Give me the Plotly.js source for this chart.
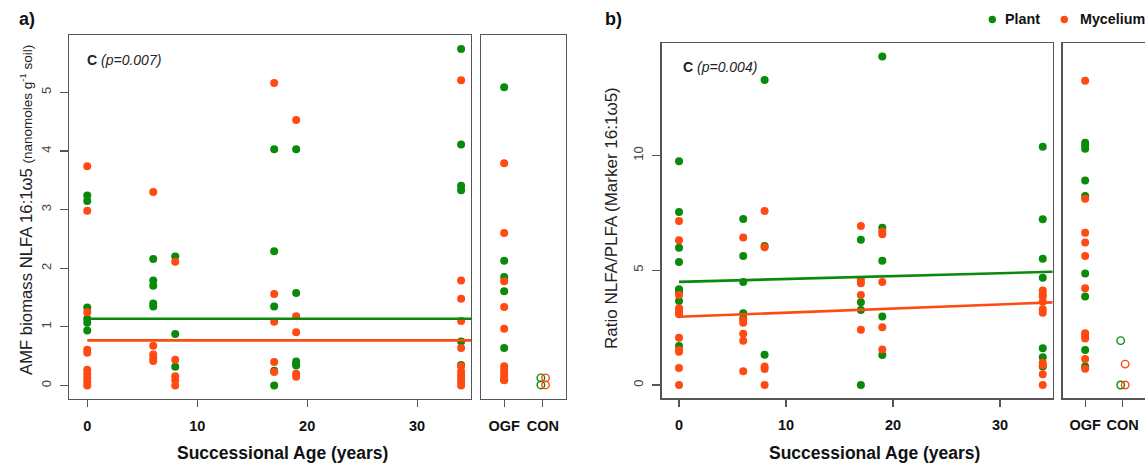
<!DOCTYPE html>
<html>
<head>
<meta charset="utf-8">
<script src="https://cdn.plot.ly/plotly-3.0.1.min.js"></script>
<style>html,body{margin:0;padding:0;background:#fff;}#chart{width:1145px;height:467px;}</style>
</head>
<body>
<div id="chart"></div>
<script>
// ---------------- DATA ----------------
const siteAges = [0, 6, 8, 17, 19, 34];
const refSites = ['OGF', 'CON'];
const ageTicks = [0, 10, 20, 30];
const amfTicks = [0, 1, 2, 3, 4, 5];
const ratioTicks = [0, 5, 10];
const seriesNames = ['Plant', 'Mycelium'];

// a) AMF biomass NLFA 16:1w5 per site (aligned with siteAges)
const amfPlant = [
  [3.24, 3.15, 1.33, 1.14, 1.07, 0.94],
  [2.16, 1.79, 1.70, 1.40, 1.35],
  [2.20, 0.88, 0.32],
  [4.03, 2.29, 1.35, 0.25, 0.00],
  [4.03, 1.58, 0.41, 0.37, 0.34],
  [5.74, 4.11, 3.41, 3.33, 0.75, 0.35]
];
const amfMycelium = [
  [3.74, 2.98, 1.25, 0.61, 0.56, 0.27, 0.20, 0.13, 0.06, 0.00],
  [3.30, 0.68, 0.53, 0.47, 0.42],
  [2.11, 0.44, 0.16, 0.09, 0.00],
  [5.16, 1.56, 1.09, 0.40, 0.23],
  [4.53, 1.18, 0.91, 0.20, 0.15],
  [5.21, 1.79, 1.48, 1.10, 0.64, 0.33, 0.24, 0.18, 0.12, 0.06, 0.00]
];
const amfPlantRef = [
  [5.09, 2.13, 1.85, 1.61, 0.64, 0.10],
  [0.13, 0.01]
];
const amfMyceliumRef = [
  [3.79, 2.60, 1.78, 1.34, 0.97, 0.33, 0.27, 0.21, 0.15, 0.09],
  [0.13, 0.01]
];
// fitted lines [intercept, slope]
const amfFitPlant = [1.14, 0];
const amfFitMycelium = [0.77, 0];

// b) Ratio NLFA/PLFA per site
const ratioPlant = [
  [9.74, 7.53, 5.98, 5.36, 4.17, 4.06, 3.66, 1.70],
  [7.23, 5.62, 4.49, 3.12, 2.90],
  [13.28, 6.05, 1.32],
  [6.32, 3.60, 3.27, 0.00],
  [14.30, 6.85, 5.41, 2.98, 1.31],
  [10.37, 7.22, 5.50, 4.67, 1.60, 1.21, 0.80]
];
const ratioMycelium = [
  [7.14, 6.30, 3.92, 3.34, 3.19, 3.08, 2.06, 1.52, 1.45, 0.74, 0.00],
  [6.42, 2.83, 2.71, 2.23, 1.93, 0.60],
  [7.58, 6.00, 0.80, 0.70, 0.00],
  [6.92, 4.57, 4.43, 3.92, 2.40],
  [6.68, 6.56, 4.49, 2.51, 1.55],
  [4.11, 3.96, 3.85, 3.63, 3.30, 3.15, 0.97, 0.87, 0.47, 0.00]
];
const ratioPlantRef = [
  [10.55, 10.44, 10.29, 8.90, 8.23, 4.86, 3.85, 1.52, 0.80],
  [1.93, 0.00]
];
const ratioMyceliumRef = [
  [13.25, 8.11, 6.63, 6.20, 5.62, 4.21, 2.25, 2.13, 2.02, 1.13, 0.71],
  [0.91, 0.00]
];
const ratioFitPlant = [4.49, 0.0126];
const ratioFitMycelium = [2.97, 0.018];

// ---------------- STYLE ----------------
const W = 1145, H = 467;
const GREEN = '#0a8a0a', ORANGE = '#ff4a12';
const FONT = 'Liberation Sans, Arial, Helvetica, sans-serif';
const AX = '#555';
const px = v => v / W;
const py = v => 1 - v / H;
const conDodge = {Plant: -0.05, Mycelium: 0.07};

function expand(groups, xs) {
  const x = [], y = [];
  groups.forEach((g, i) => g.forEach(v => { x.push(xs[i]); y.push(v); }));
  return {x, y};
}
function expandRef(groups, name) {
  const x = [], y = [], sym = [], lw = [], sz = [];
  groups.forEach((g, i) => g.forEach(v => {
    const open = refSites[i] === 'CON';
    x.push(i + 1 + (open ? conDodge[name] : 0));
    y.push(v);
    sym.push(open ? 'circle-open' : 'circle');
    lw.push(open ? 1.4 : 0);
    sz.push(open ? 7.5 : 8);
  }));
  return {x, y, sym, lw, sz};
}

const traces = [];
function panel(plantG, mycG, plantRef, mycRef, fitP, fitM, xa, ya, xa2, ya2, xmax) {
  [[plantG, 'Plant', GREEN], [mycG, 'Mycelium', ORANGE]].forEach(([g, n, c]) => {
    const d = expand(g, siteAges);
    traces.push({type: 'scatter', mode: 'markers', x: d.x, y: d.y, name: n, xaxis: xa, yaxis: ya,
      marker: {color: c, size: 8, opacity: 1, line: {width: 0}}, cliponaxis: false});
  });
  [[fitP, GREEN, 'Plant'], [fitM, ORANGE, 'Mycelium']].forEach(([f, c, n]) => {
    traces.push({type: 'scatter', mode: 'lines', x: [0, xmax], y: [f[0], f[0] + f[1] * xmax], name: n + ' fit',
      xaxis: xa, yaxis: ya, line: {color: c, width: 2.6}});
  });
  [[plantRef, 'Plant', GREEN], [mycRef, 'Mycelium', ORANGE]].forEach(([g, n, c]) => {
    const d = expandRef(g, n);
    traces.push({type: 'scatter', mode: 'markers', x: d.x, y: d.y, name: n, xaxis: xa2, yaxis: ya2,
      marker: {color: c, size: d.sz, opacity: 1, symbol: d.sym, line: {width: d.lw, color: c}}, cliponaxis: false});
  });
}

const aX = [-1.66, 34.9], aY = [-0.23, 5.98];
const bX = [-1.62, 34.93], bY = [-0.58, 14.88];
panel(amfPlant, amfMycelium, amfPlantRef, amfMyceliumRef, amfFitPlant, amfFitMycelium, 'x', 'y', 'x2', 'y2', aX[1]);
panel(ratioPlant, ratioMycelium, ratioPlantRef, ratioMyceliumRef, ratioFitPlant, ratioFitMycelium, 'x3', 'y3', 'x4', 'y4', bX[1]);

const boxAxis = {showline: true, mirror: true, linecolor: AX, linewidth: 1.3, showgrid: false, zeroline: false, fixedrange: true};
const xTickFont = {family: FONT, size: 14.5, color: '#111', weight: 700};
const yTickFont = {family: FONT, size: 13, color: '#444'};

const aDom = [py(399), py(35)];
const bDom = [py(398.3), py(43.3)];

const layout = {
  width: W, height: H,
  margin: {l: 0, r: 0, t: 0, b: 0},
  paper_bgcolor: '#fff', plot_bgcolor: '#fff',
  showlegend: false,
  font: {family: FONT, color: '#111'},
  xaxis: Object.assign({}, boxAxis, {domain: [px(69), px(471)], range: aX, anchor: 'y', tickvals: ageTicks,
    ticks: 'outside', ticklen: 7, tickcolor: AX, tickwidth: 1.2, tickfont: xTickFont, ticklabelstandoff: 6}),
  yaxis: Object.assign({}, boxAxis, {domain: aDom, range: aY, anchor: 'x', tickvals: amfTicks, tickangle: -90,
    ticks: 'outside', ticklen: 8, tickcolor: AX, tickwidth: 1.2, tickfont: yTickFont, ticklabelstandoff: 4}),
  xaxis2: Object.assign({}, boxAxis, {domain: [px(481), px(566)], range: [0.4, 2.6], anchor: 'y2', tickvals: [1, 2],
    ticktext: refSites, ticks: 'outside', ticklen: 7, tickcolor: AX, tickwidth: 1.2, tickfont: xTickFont, ticklabelstandoff: 6}),
  yaxis2: Object.assign({}, boxAxis, {domain: aDom, range: aY, anchor: 'x2', showticklabels: false, ticks: ''}),
  xaxis3: Object.assign({}, boxAxis, {domain: [px(661.7), px(1052.7)], range: bX, anchor: 'y3', tickvals: ageTicks,
    ticks: 'outside', ticklen: 7, tickcolor: AX, tickwidth: 1.2, tickfont: xTickFont, ticklabelstandoff: 6}),
  yaxis3: Object.assign({}, boxAxis, {domain: bDom, range: bY, anchor: 'x3', tickvals: ratioTicks, tickangle: -90,
    ticks: 'outside', ticklen: 8, tickcolor: AX, tickwidth: 1.2, tickfont: yTickFont, ticklabelstandoff: 4}),
  xaxis4: Object.assign({}, boxAxis, {domain: [px(1062.7), 1], range: [0.4, 2.6], anchor: 'y4', tickvals: [1, 2],
    ticktext: refSites, ticks: 'outside', ticklen: 7, tickcolor: AX, tickwidth: 1.2, tickfont: xTickFont, ticklabelstandoff: 6}),
  yaxis4: Object.assign({}, boxAxis, {domain: bDom, range: bY, anchor: 'x4', showticklabels: false, ticks: ''}),
  annotations: [
    {text: '<b>a)</b>', x: px(27), y: py(19), xref: 'paper', yref: 'paper', showarrow: false, xanchor: 'center', yanchor: 'middle', font: {size: 18, color: '#111'}},
    {text: '<b>b)</b>', x: px(613), y: py(19), xref: 'paper', yref: 'paper', showarrow: false, xanchor: 'center', yanchor: 'middle', font: {size: 18, color: '#111'}},
    {text: '<b>C</b> <i>(p=0.007)</i>', x: px(85), y: py(60), xref: 'paper', yref: 'paper', showarrow: false, xanchor: 'left', yanchor: 'middle', font: {size: 14, color: '#222'}},
    {text: '<b>C</b> <i>(p=0.004)</i>', x: px(680.5), y: py(67.5), xref: 'paper', yref: 'paper', showarrow: false, xanchor: 'left', yanchor: 'middle', font: {size: 14, color: '#222'}},
    {text: '<b>Successional Age (years)</b>', x: px(282), y: py(453), xref: 'paper', yref: 'paper', showarrow: false, xanchor: 'center', yanchor: 'middle', font: {size: 17.5, color: '#111'}},
    {text: '<b>Successional Age (years)</b>', x: px(874), y: py(453), xref: 'paper', yref: 'paper', showarrow: false, xanchor: 'center', yanchor: 'middle', font: {size: 17.5, color: '#111'}},
    {text: 'AMF biomass NLFA 16:1ω5 <span style="font-size:13.5px">(nanomoles g<sup>-1</sup> soil)</span>', textangle: -90,
      x: px(26), y: py(210), xref: 'paper', yref: 'paper', showarrow: false, xanchor: 'center', yanchor: 'middle', font: {size: 16.7, color: '#222'}},
    {text: 'Ratio NLFA/PLFA (Marker 16:1ω5)', textangle: -90,
      x: px(611), y: py(218), xref: 'paper', yref: 'paper', showarrow: false, xanchor: 'center', yanchor: 'middle', font: {size: 17, color: '#222'}},
    {text: '<b>' + seriesNames[0] + '</b>', x: px(1003.5), y: py(19.5), xref: 'paper', yref: 'paper', showarrow: false, xanchor: 'left', yanchor: 'middle', font: {size: 14.3, color: '#111'}},
    {text: '<b>' + seriesNames[1] + '</b>', x: px(1077.5), y: py(19.5), xref: 'paper', yref: 'paper', showarrow: false, xanchor: 'left', yanchor: 'middle', font: {size: 14.3, color: '#111'}}
  ],
  shapes: [
    {type: 'circle', xref: 'paper', yref: 'paper', xsizemode: 'pixel', ysizemode: 'pixel', xanchor: px(992.3), yanchor: py(19.5),
      x0: -3.7, x1: 3.7, y0: -3.7, y1: 3.7, fillcolor: GREEN, line: {width: 0}},
    {type: 'circle', xref: 'paper', yref: 'paper', xsizemode: 'pixel', ysizemode: 'pixel', xanchor: px(1064.3), yanchor: py(19.5),
      x0: -3.7, x1: 3.7, y0: -3.7, y1: 3.7, fillcolor: ORANGE, line: {width: 0}}
  ]
};

Plotly.newPlot('chart', traces, layout, {staticPlot: true, displayModeBar: false});
</script>
</body>
</html>
